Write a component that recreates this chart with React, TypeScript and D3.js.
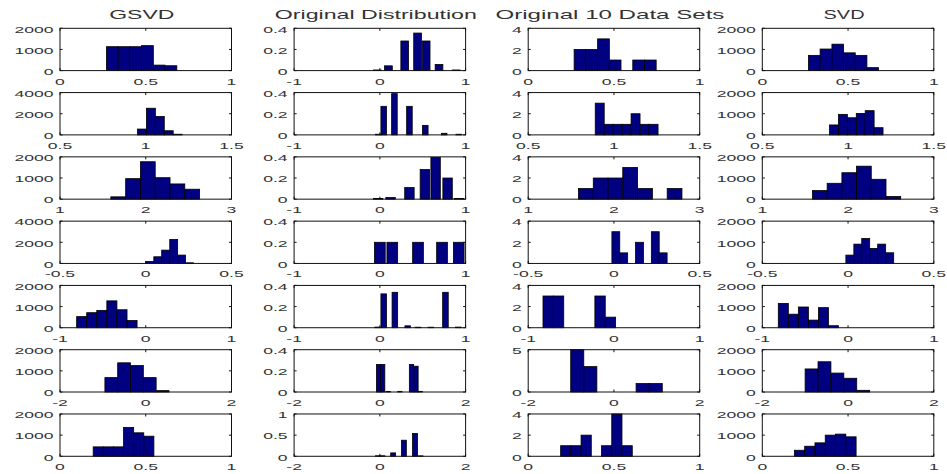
import React from 'react';
import * as d3 from 'd3';

// ---------- titles & axis definitions ----------
const columnTitles = ['GSVD', 'Original Distribution', 'Original 10 Data Sets', 'SVD'];

// x domains per row (columns 1, 3, 4 share these)
const rowXDomains: [number, number][] = [[0, 1], [0.5, 1.5], [1, 3], [-0.5, 0.5], [-1, 1], [-2, 2], [0, 1]];
const rowXTicks: number[][] = [[0, 0.5, 1], [0.5, 1, 1.5], [1, 2, 3], [-0.5, 0, 0.5], [-1, 0, 1], [-2, 0, 2], [0, 0.5, 1]];
// x domains for column 2
const origXDomains: [number, number][] = [[-1, 1], [-1, 1], [-1, 1], [-1, 1], [-1, 1], [-2, 2], [-2, 2]];
const origXTicks: number[][] = [[-1, 0, 1], [-1, 0, 1], [-1, 0, 1], [-1, 0, 1], [-1, 0, 1], [-2, 0, 2], [-2, 0, 2]];

const gsvdYMax = [2000, 4000, 2000, 4000, 2000, 2000, 2000];
const gsvdYTicks = [[0, 1000, 2000], [0, 2000, 4000], [0, 1000, 2000], [0, 2000, 4000], [0, 1000, 2000], [0, 1000, 2000], [0, 1000, 2000]];
const origYMax = [0.4, 0.4, 0.4, 0.4, 0.4, 0.4, 1];
const origYTicks = [[0, 0.2, 0.4], [0, 0.2, 0.4], [0, 0.2, 0.4], [0, 0.2, 0.4], [0, 0.2, 0.4], [0, 0.2, 0.4], [0, 0.5, 1]];
const setYMax = [4, 4, 4, 4, 4, 5, 4];
const setYTicks = [[0, 2, 4], [0, 2, 4], [0, 2, 4], [0, 2, 4], [0, 2, 4], [0, 5], [0, 2, 4]];
const svdYMax = [2000, 2000, 2000, 2000, 2000, 2000, 2000];
const svdYTicks = [[0, 1000, 2000], [0, 1000, 2000], [0, 1000, 2000], [0, 1000, 2000], [0, 1000, 2000], [0, 1000, 2000], [0, 1000, 2000]];

// ---------- GSVD histograms ----------
const gsvdCenters = [
  [0.305, 0.373, 0.441, 0.510, 0.578, 0.647],
  [0.978, 1.030, 1.082, 1.134, 1.186],
  [1.679, 1.852, 2.024, 2.197, 2.369, 2.542],
  [0.023, 0.070, 0.116, 0.163, 0.209, 0.256],
  [-0.747, -0.630, -0.512, -0.395, -0.277, -0.160],
  [-0.803, -0.505, -0.206, 0.093, 0.393],
  [0.223, 0.282, 0.341, 0.400, 0.459, 0.518],
];
const gsvdCounts = [
  [1130, 1130, 1130, 1180, 260, 230],
  [550, 2520, 1740, 390, 60],
  [110, 970, 1770, 1015, 720, 470],
  [190, 630, 1260, 2270, 790, 60],
  [525, 710, 820, 1270, 850, 340],
  [680, 1380, 1250, 680, 65],
  [445, 445, 445, 1365, 1110, 950],
];
const gsvdBinWidths = [0.0685, 0.052, 0.1725, 0.046, 0.1175, 0.299, 0.059];

// ---------- Original distribution ----------
const origCenters = [
  [-0.03, 0.1, 0.29, 0.44, 0.54, 0.69, 0.89],
  [-0.02, 0.045, 0.17, 0.345, 0.53, 0.75, 0.92],
  [-0.02, 0.125, 0.345, 0.525, 0.65, 0.79, 0.92],
  [0, 0.145, 0.445, 0.725, 0.92],
  [-0.025, 0.045, 0.175, 0.325, 0.445, 0.595, 0.765, 0.915],
  [-0.03, 0.066, 0.194, 0.466, 0.738, 0.843, 0.94],
  [-0.045, 0.06, 0.31, 0.56, 0.82, 0.95],
];
const origProbs = [
  [0.006, 0.045, 0.28, 0.355, 0.28, 0.058, 0.006],
  [0.006, 0.27, 0.39, 0.27, 0.09, 0.015, 0.006],
  [0.006, 0.016, 0.11, 0.28, 0.395, 0.2, 0.006],
  [0.2, 0.2, 0.2, 0.2, 0.2],
  [0.006, 0.32, 0.335, 0.018, 0.005, 0.005, 0.335, 0.006],
  [0.26, 0.26, 0.006, 0.006, 0.26, 0.244, 0.006],
  [0.012, 0.012, 0.08, 0.38, 0.54, 0.01],
];
const origBarWidths = [0.09, 0.065, 0.11, 0.125, 0.065, 0.1, 0.115];

// ---------- Original 10 data sets ----------
const setCenters = [
  [0.302, 0.370, 0.439, 0.507, 0.576, 0.644, 0.712],
  [0.917, 0.969, 1.022, 1.074, 1.126, 1.179, 1.231],
  [1.672, 1.845, 2.017, 2.189, 2.362, 2.534, 2.707],
  [0.011, 0.057, 0.103, 0.149, 0.195, 0.241, 0.287],
  [-0.767, -0.646, -0.525, -0.404, -0.283, -0.162, -0.041],
  [-0.856, -0.551, -0.246, 0.059, 0.364, 0.669, 0.974],
  [0.219, 0.279, 0.338, 0.398, 0.457, 0.517, 0.577],
];
const setCounts = [
  [2, 2, 3, 1, 0, 1, 1],
  [3, 1, 1, 1, 2, 1, 1],
  [1, 2, 2, 3, 1, 0, 1],
  [3, 1, 0, 2, 0, 3, 1],
  [3, 3, 0, 0, 0, 3, 1],
  [5, 3, 0, 0, 0, 1, 1],
  [1, 1, 2, 0, 1, 4, 1],
];
const setBinWidths = [0.0684, 0.0523, 0.1724, 0.0459, 0.121, 0.305, 0.0596];

// ---------- SVD histograms ----------
const svdCenters = [
  [0.303, 0.371, 0.440, 0.508, 0.576, 0.644],
  [0.918, 0.970, 1.022, 1.074, 1.126, 1.178],
  [1.671, 1.842, 2.014, 2.185, 2.357, 2.528],
  [0.0105, 0.057, 0.103, 0.150, 0.196, 0.243],
  [-0.755, -0.638, -0.521, -0.404, -0.287, -0.170],
  [-0.851, -0.550, -0.249, 0.052, 0.353],
  [0.217, 0.277, 0.337, 0.397, 0.457, 0.517],
];
const svdCounts = [
  [720, 1020, 1250, 840, 720, 140],
  [470, 970, 810, 1015, 1145, 340],
  [406, 750, 1250, 1560, 940, 125],
  [394, 913, 1180, 710, 913, 504],
  [1150, 640, 980, 360, 950, 95],
  [1090, 1430, 895, 650, 80],
  [285, 476, 635, 1000, 1048, 920],
];
const svdBinWidths = [0.068, 0.052, 0.1715, 0.0464, 0.117, 0.301, 0.06];

// ---------- layout ----------
const W = 947;
const H = 474;
const COL_LEFT0 = 60;
const COL_STEP = 234.1;
const AX_W = 171.5;
const ROW_TOP0 = 28.3;
const ROW_STEP = 64.28;
const AX_H = 42.3;
const TITLE_WIDTHS = [65, 202, 229, 41];
const FONT = "'Liberation Sans', Arial, Helvetica, sans-serif";
const TEXT_FILL = '#333';
const BAR_FILL = '#000080';
const TICK_SIZE = 9.5;
const TICK_SX = 1.85;
const TICK_LEN = 2.5;

type Panel = {
  xDomain: [number, number];
  xTicks: number[];
  yMax: number;
  yTicks: number[];
  centers: number[];
  values: number[];
  width: number;
};

const columns: Panel[][] = [
  rowXDomains.map((xd, i) => ({ xDomain: xd, xTicks: rowXTicks[i], yMax: gsvdYMax[i], yTicks: gsvdYTicks[i], centers: gsvdCenters[i], values: gsvdCounts[i], width: gsvdBinWidths[i] })),
  origXDomains.map((xd, i) => ({ xDomain: xd, xTicks: origXTicks[i], yMax: origYMax[i], yTicks: origYTicks[i], centers: origCenters[i], values: origProbs[i], width: origBarWidths[i] })),
  rowXDomains.map((xd, i) => ({ xDomain: xd, xTicks: rowXTicks[i], yMax: setYMax[i], yTicks: setYTicks[i], centers: setCenters[i], values: setCounts[i], width: setBinWidths[i] })),
  rowXDomains.map((xd, i) => ({ xDomain: xd, xTicks: rowXTicks[i], yMax: svdYMax[i], yTicks: svdYTicks[i], centers: svdCenters[i], values: svdCounts[i], width: svdBinWidths[i] })),
];

function Label({ x, y, anchor, text }: { x: number; y: number; anchor: string; text: string }) {
  return (
    <text
      transform={`translate(${x},${y}) scale(${TICK_SX},1)`}
      textAnchor={anchor}
      fontSize={TICK_SIZE}
      fontFamily={FONT}
      fill={TEXT_FILL}
    >
      {text}
    </text>
  );
}

function PanelView({ p, left, top }: { p: Panel; left: number; top: number }) {
  const xs = d3.scaleLinear().domain(p.xDomain).range([left, left + AX_W]);
  const ys = d3.scaleLinear().domain([0, p.yMax]).range([top + AX_H, top]);
  const bottom = top + AX_H;
  const right = left + AX_W;
  return (
    <g>
      {p.centers.map((c, k) => {
        const v = p.values[k];
        if (v <= 0) return null;
        const x0 = xs(c - p.width / 2);
        const x1 = xs(c + p.width / 2);
        return (
          <rect
            key={k}
            x={x0}
            y={ys(v)}
            width={x1 - x0}
            height={ys(0) - ys(v)}
            fill={BAR_FILL}
            stroke="#000"
            strokeWidth={0.8}
          />
        );
      })}
      <rect x={left} y={top} width={AX_W} height={AX_H} fill="none" stroke="#111" strokeWidth={1} />
      {p.xTicks.map((t, k) => (
        <g key={'x' + k}>
          <line x1={xs(t)} x2={xs(t)} y1={bottom} y2={bottom - TICK_LEN} stroke="#111" />
          <line x1={xs(t)} x2={xs(t)} y1={top} y2={top + TICK_LEN} stroke="#111" />
          <Label x={xs(t)} y={bottom + 14} anchor="middle" text={String(t)} />
        </g>
      ))}
      {p.yTicks.map((t, k) => (
        <g key={'y' + k}>
          <line x1={left} x2={left + TICK_LEN} y1={ys(t)} y2={ys(t)} stroke="#111" />
          <line x1={right} x2={right - TICK_LEN} y1={ys(t)} y2={ys(t)} stroke="#111" />
          <Label x={left - 6.5} y={ys(t) + 4.3} anchor="end" text={String(t)} />
        </g>
      ))}
    </g>
  );
}

export default function App() {
  return (
    <svg
      width={W}
      height={H}
      viewBox={`0 0 ${W} ${H}`}
      style={{ position: 'absolute', left: 0, top: 0, background: '#fff' }}
    >
      <rect x={0} y={0} width={W} height={H} fill="#fff" />
      {columns.map((col, j) => {
        const left = COL_LEFT0 + j * COL_STEP;
        return (
          <g key={j}>
            <text
              x={left + AX_W / 2 - 4 - TITLE_WIDTHS[j] / 2}
              y={19}
              fontSize={13}
              fontFamily={FONT}
              textLength={TITLE_WIDTHS[j]}
              lengthAdjust="spacingAndGlyphs"
              fill={TEXT_FILL}
            >
              {columnTitles[j]}
            </text>
            {col.map((p, i) => (
              <PanelView key={i} p={p} left={left} top={ROW_TOP0 + i * ROW_STEP} />
            ))}
          </g>
        );
      })}
    </svg>
  );
}
